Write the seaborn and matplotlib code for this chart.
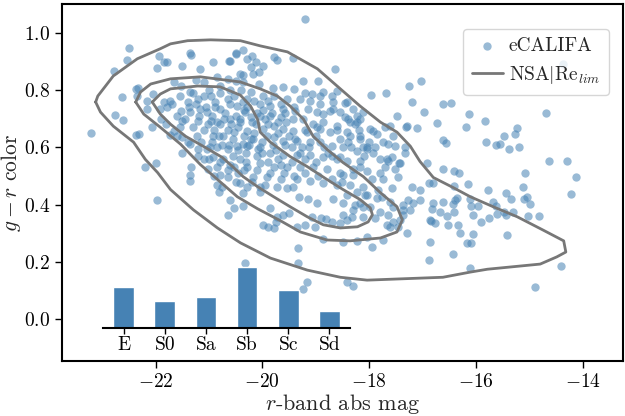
import numpy as np
import pandas as pd
import matplotlib
matplotlib.use("Agg")
import matplotlib.pyplot as plt
import seaborn as sns

# ---------------- data ----------------
# eCALIFA galaxies: r-band absolute magnitude, g-r colour
pts_left = [
    (-22.50, 0.947), (-22.54, 0.905), (-22.77, 0.867), (-21.94, 0.919), (-21.79, 0.898),
    (-21.36, 0.930), (-21.33, 0.923), (-21.50, 0.884), (-21.98, 0.877), (-21.16, 0.874),
    (-20.92, 0.898), (-20.60, 0.902), (-20.49, 0.926), (-20.37, 0.940), (-20.19, 0.919),
    (-20.21, 0.881), (-20.37, 0.853), (-21.25, 0.835), (-22.32, 0.807), (-22.62, 0.775),
    (-22.15, 0.733), (-22.75, 0.712), (-22.60, 0.695), (-22.06, 0.670), (-22.37, 0.642),
    (-22.30, 0.648), (-23.21, 0.649), (-21.72, 0.642), (-21.50, 0.635), (-21.50, 0.582),
    (-22.19, 0.533), (-22.00, 0.544), (-21.33, 0.533), (-21.35, 0.505), (-21.98, 0.418),
    (-21.35, 0.484), (-20.64, 0.365), (-20.54, 0.389), (-20.37, 0.442), (-20.32, 0.196),
    (-20.82, 0.446), (-20.75, 0.463), (-20.60, 0.418), (-20.36, 0.396), (-20.04, 0.446),
    (-19.85, 0.389), (-19.53, 0.460), (-19.61, 0.365), (-19.79, 0.319), (-19.33, 0.196),
]
pts_top = [
    (-19.20, 1.046), (-20.50, 0.930), (-20.62, 0.902), (-20.11, 0.898), (-19.98, 0.884),
    (-20.07, 0.863), (-19.79, 0.916), (-19.72, 0.905), (-19.42, 0.912), (-18.64, 0.874),
    (-19.23, 0.832), (-18.95, 0.832), (-19.81, 0.807), (-19.61, 0.811), (-19.40, 0.804),
    (-19.21, 0.789), (-18.92, 0.779), (-18.69, 0.779), (-18.45, 0.754), (-17.96, 0.782),
    (-17.68, 0.789), (-19.14, 0.733), (-18.67, 0.733), (-18.86, 0.716), (-18.22, 0.709),
    (-18.11, 0.723), (-18.45, 0.705), (-18.26, 0.681), (-18.60, 0.674), (-18.97, 0.670),
    (-17.93, 0.656), (-17.70, 0.670), (-17.55, 0.639), (-17.64, 0.611), (-17.51, 0.604),
    (-18.39, 0.618), (-18.11, 0.600), (-17.93, 0.582), (-17.57, 0.568), (-17.79, 0.558),
    (-18.54, 0.565), (-18.77, 0.582),
]
pts_right_top = [
    (-17.03, 0.832), (-17.25, 0.814), (-17.20, 0.758), (-16.62, 0.751), (-16.47, 0.754),
    (-16.97, 0.723), (-17.48, 0.709), (-16.13, 0.716), (-15.83, 0.691), (-14.69, 0.719),
    (-16.73, 0.684), (-16.19, 0.670), (-17.10, 0.667), (-17.31, 0.670), (-15.23, 0.667),
    (-15.27, 0.646), (-15.48, 0.639), (-16.62, 0.625), (-16.56, 0.614), (-15.81, 0.618),
    (-15.63, 0.607), (-15.55, 0.611), (-15.38, 0.596), (-15.20, 0.600), (-14.64, 0.551),
    (-14.30, 0.554), (-15.08, 0.512), (-14.13, 0.495), (-16.92, 0.547), (-16.62, 0.523),
    (-16.41, 0.516), (-16.32, 0.512), (-17.33, 0.600), (-17.33, 0.582), (-17.66, 0.561),
    (-17.44, 0.544), (-17.70, 0.533), (-17.51, 0.526), (-14.37, 0.891),
]
pts_right = [
    (-16.88, 0.477), (-16.80, 0.477), (-16.41, 0.467), (-16.15, 0.474), (-17.05, 0.453),
    (-15.78, 0.453), (-15.44, 0.442), (-15.12, 0.463), (-15.05, 0.428), (-14.22, 0.439),
    (-17.05, 0.418), (-16.80, 0.407), (-16.62, 0.411), (-16.43, 0.404), (-16.36, 0.425),
    (-16.11, 0.421), (-16.09, 0.396), (-15.96, 0.396), (-15.68, 0.411), (-15.63, 0.396),
    (-15.35, 0.421), (-15.10, 0.421), (-14.99, 0.404), (-16.82, 0.386), (-16.67, 0.375),
    (-16.41, 0.375), (-16.54, 0.361), (-16.06, 0.365), (-15.61, 0.368), (-15.48, 0.375),
    (-15.44, 0.365), (-15.31, 0.375), (-15.03, 0.361), (-14.82, 0.361), (-16.84, 0.344),
    (-16.77, 0.337), (-16.52, 0.330), (-15.91, 0.340), (-15.76, 0.354), (-16.30, 0.302),
    (-16.06, 0.298), (-15.42, 0.295), (-16.86, 0.270), (-16.17, 0.267), (-16.09, 0.267),
    (-16.43, 0.228), (-16.88, 0.207), (-16.11, 0.179), (-14.41, 0.186), (-14.90, 0.112),
    (-16.39, 0.418), (-16.86, 0.347), (-16.34, 0.330),
]
pts_low_mid = [
    (-19.33, 0.249), (-19.16, 0.130), (-19.23, 0.105), (-18.41, 0.130), (-18.30, 0.116),
    (-18.86, 0.281), (-17.94, 0.253), (-18.04, 0.288), (-18.22, 0.274), (-17.74, 0.277),
    (-17.66, 0.330), (-17.55, 0.340), (-17.46, 0.323), (-17.36, 0.365), (-17.23, 0.382),
    (-17.18, 0.407), (-17.36, 0.400), (-17.64, 0.365), (-17.55, 0.393), (-17.85, 0.425),
    (-17.98, 0.393), (-18.41, 0.347), (-18.54, 0.337), (-18.49, 0.365), (-18.69, 0.340),
    (-18.80, 0.351), (-19.01, 0.323), (-19.20, 0.330), (-19.35, 0.323), (-19.50, 0.372),
    (-19.72, 0.358), (-19.89, 0.323), (-19.98, 0.330), (-19.74, 0.340), (-19.07, 0.358),
    (-18.90, 0.354), (-18.97, 0.407), (-19.14, 0.421), (-19.31, 0.428), (-18.67, 0.421),
    (-18.49, 0.407), (-18.26, 0.400), (-18.30, 0.382), (-18.11, 0.393), (-18.04, 0.435),
    (-18.22, 0.688), (-17.98, 0.663), (-17.85, 0.646), (-18.41, 0.653), (-18.17, 0.639),
    (-17.61, 0.674), (-17.29, 0.674), (-18.04, 0.600), (-17.64, 0.551), (-17.42, 0.547),
    (-18.41, 0.551), (-18.17, 0.551), (-18.30, 0.523), (-18.49, 0.505), (-18.04, 0.516),
    (-17.94, 0.488), (-17.79, 0.512), (-17.74, 0.488), (-17.46, 0.495), (-17.20, 0.463),
    (-17.57, 0.460), (-17.76, 0.428), (-17.83, 0.453), (-18.07, 0.435), (-18.22, 0.446),
    (-18.41, 0.435), (-18.17, 0.407), (-17.61, 0.411), (-17.27, 0.418), (-17.36, 0.382),
    (-17.79, 0.375), (-18.11, 0.358), (-18.32, 0.358), (-17.89, 0.354), (-17.42, 0.347),
    (-17.61, 0.323), (-17.29, 0.302), (-18.49, 0.270),
]
pts_core = [
    (-21.85, 0.898), (-21.66, 0.828), (-21.53, 0.814), (-21.35, 0.793), (-21.10, 0.828),
    (-20.84, 0.846), (-20.79, 0.814), (-20.65, 0.839), (-20.50, 0.832), (-20.36, 0.828),
    (-22.37, 0.804), (-22.34, 0.779), (-22.15, 0.761), (-22.04, 0.786), (-21.85, 0.758),
    (-21.72, 0.761), (-21.91, 0.733), (-21.78, 0.740), (-21.53, 0.726), (-21.40, 0.758),
    (-21.35, 0.723), (-21.21, 0.768), (-21.10, 0.779), (-21.16, 0.733), (-20.97, 0.779),
    (-20.88, 0.758), (-21.03, 0.723), (-20.79, 0.733), (-20.65, 0.768), (-20.54, 0.779),
    (-20.47, 0.744), (-20.28, 0.768), (-20.32, 0.723), (-21.20, 0.691), (-20.97, 0.691),
    (-20.79, 0.681), (-20.60, 0.698), (-20.41, 0.688), (-20.28, 0.656), (-20.54, 0.653),
    (-20.73, 0.639), (-20.92, 0.639), (-21.50, 0.691), (-21.66, 0.656), (-21.35, 0.611),
    (-21.21, 0.593), (-21.03, 0.593), (-20.84, 0.600), (-20.65, 0.593), (-20.47, 0.604),
    (-20.28, 0.604), (-21.10, 0.558), (-20.92, 0.565), (-20.73, 0.558), (-20.54, 0.533),
    (-20.41, 0.558), (-20.28, 0.533), (-21.01, 0.523), (-20.84, 0.533), (-20.79, 0.505),
    (-20.65, 0.495), (-20.45, 0.512), (-20.41, 0.477), (-20.84, 0.470),
    (-20.28, 0.909), (-20.17, 0.856), (-20.41, 0.856), (-20.07, 0.821), (-19.07, 0.786),
    (-18.86, 0.793), (-18.60, 0.796), (-18.41, 0.758), (-18.67, 0.758), (-18.92, 0.751),
    (-19.10, 0.761), (-19.29, 0.768), (-19.53, 0.768), (-19.79, 0.779), (-19.98, 0.779),
    (-20.22, 0.793), (-20.36, 0.758), (-20.04, 0.751), (-19.85, 0.744), (-19.61, 0.733),
    (-19.38, 0.726), (-18.97, 0.723), (-18.73, 0.726), (-18.54, 0.723), (-18.30, 0.733),
    (-18.17, 0.698), (-18.36, 0.688), (-18.86, 0.688), (-19.05, 0.681), (-19.23, 0.698),
    (-19.42, 0.698), (-19.66, 0.705), (-19.85, 0.709), (-20.04, 0.709), (-20.22, 0.705),
    (-19.98, 0.663), (-19.79, 0.674), (-19.61, 0.663), (-19.42, 0.656), (-19.16, 0.653),
    (-18.92, 0.663), (-18.73, 0.653), (-18.54, 0.628), (-18.36, 0.639), (-18.17, 0.628),
    (-18.04, 0.593), (-18.22, 0.586), (-18.49, 0.600), (-18.69, 0.604), (-18.92, 0.618),
    (-19.10, 0.618), (-19.35, 0.621), (-19.61, 0.621), (-19.79, 0.635), (-20.17, 0.628),
    (-20.36, 0.611), (-20.09, 0.593), (-19.85, 0.582), (-19.61, 0.575), (-19.35, 0.575),
    (-19.10, 0.575), (-18.86, 0.568), (-18.60, 0.558), (-18.17, 0.533), (-18.30, 0.505),
    (-18.54, 0.512), (-18.79, 0.523), (-19.05, 0.533), (-19.29, 0.533), (-19.53, 0.533),
    (-19.79, 0.533), (-20.04, 0.547), (-20.17, 0.498), (-19.91, 0.495), (-19.66, 0.488),
    (-19.35, 0.488), (-19.10, 0.481), (-18.86, 0.477), (-18.60, 0.470), (-18.36, 0.470),
    (-18.11, 0.463), (-19.72, 0.463), (-19.42, 0.463), (-20.04, 0.463), (-20.28, 0.463),
]
pts_core_dense = [
    (-21.25, 0.75), (-21.05, 0.74), (-20.95, 0.71), (-20.85, 0.69), (-20.70, 0.72),
    (-20.60, 0.75), (-20.50, 0.71), (-20.35, 0.73), (-20.20, 0.69), (-20.10, 0.72),
    (-19.95, 0.70), (-19.90, 0.68), (-20.45, 0.67), (-20.65, 0.66), (-20.90, 0.66),
    (-21.10, 0.66), (-21.30, 0.67), (-21.45, 0.70), (-21.60, 0.71), (-21.15, 0.62),
    (-20.95, 0.62), (-20.75, 0.61), (-20.55, 0.63), (-20.35, 0.64), (-20.15, 0.65),
    (-20.00, 0.62), (-19.80, 0.61), (-19.70, 0.65), (-19.50, 0.64), (-19.55, 0.69),
    (-19.45, 0.60), (-19.25, 0.60), (-19.20, 0.66), (-19.00, 0.64), (-18.85, 0.60),
    (-18.70, 0.57), (-19.00, 0.55), (-19.20, 0.56), (-19.45, 0.55), (-19.70, 0.56),
    (-19.90, 0.55), (-20.10, 0.57), (-20.30, 0.58), (-20.55, 0.57), (-20.60, 0.54),
    (-20.35, 0.52), (-20.10, 0.52), (-19.85, 0.51), (-19.60, 0.51), (-19.40, 0.50),
    (-19.20, 0.51), (-18.95, 0.50), (-18.70, 0.49), (-18.50, 0.48), (-20.50, 0.48),
    (-20.20, 0.48), (-19.95, 0.47), (-21.40, 0.62), (-21.60, 0.64), (-21.80, 0.68),
    (-21.90, 0.70), (-21.70, 0.75), (-21.55, 0.78), (-21.30, 0.79), (-21.00, 0.80),
    (-20.80, 0.79), (-20.60, 0.80), (-20.40, 0.80), (-20.15, 0.76), (-19.90, 0.76),
    (-19.65, 0.75), (-19.40, 0.74), (-20.05, 0.60), (-20.25, 0.61), (-21.20, 0.57),
    (-21.00, 0.56), (-20.80, 0.55), (-20.65, 0.52), (-20.90, 0.50), (-18.60, 0.66),
    (-18.40, 0.70), (-18.20, 0.66), (-18.00, 0.62), (-18.35, 0.60), (-18.10, 0.57),
    (-17.90, 0.60), (-17.75, 0.62),
    (-21.18, 0.71), (-21.02, 0.68), (-20.88, 0.74), (-20.72, 0.70), (-20.58, 0.68),
    (-20.42, 0.70), (-20.28, 0.74), (-20.12, 0.68), (-19.98, 0.73), (-19.82, 0.72),
    (-19.70, 0.69), (-19.58, 0.72), (-20.98, 0.60), (-20.82, 0.64), (-20.62, 0.61),
    (-20.45, 0.59), (-20.22, 0.63), (-19.92, 0.64), (-19.75, 0.59), (-19.58, 0.61),
    (-19.38, 0.63), (-19.30, 0.58), (-19.12, 0.60), (-21.38, 0.74), (-21.55, 0.67),
    (-21.22, 0.64), (-20.30, 0.55), (-20.00, 0.58), (-19.65, 0.54),
]

# NSA|Re_lim density contours (outer, middle, inner)
nsa_outer_mag = [-23.12, -23.08, -22.79, -22.34, -21.91, -21.72, -21.40, -20.97, -20.41, -20.04,
                 -19.53, -18.97, -18.54, -18.17, -17.79, -17.48, -17.23, -17.05, -16.80, -16.43,
                 -16.11, -15.68, -15.23, -14.75, -14.36, -14.32, -14.49, -14.80, -15.79, -16.11,
                 -16.62, -17.05, -18.04, -18.54, -19.16, -19.85, -20.41, -20.84, -21.29, -21.72,
                 -21.96, -22.19, -22.41, -22.79, -23.03]
nsa_outer_gr = [0.758, 0.779, 0.849, 0.909, 0.944, 0.961, 0.972, 0.975, 0.972, 0.954,
                0.933, 0.874, 0.804, 0.744, 0.688, 0.653, 0.604, 0.551, 0.495, 0.460,
                0.428, 0.393, 0.358, 0.312, 0.274, 0.235, 0.218, 0.193, 0.175, 0.165,
                0.147, 0.144, 0.137, 0.147, 0.172, 0.214, 0.267, 0.319, 0.382, 0.453,
                0.512, 0.558, 0.618, 0.674, 0.723]
nsa_mid_mag = [-22.37, -22.28, -22.09, -21.72, -21.16, -20.41, -20.04, -19.72, -19.48, -19.23,
               -19.05, -18.79, -18.49, -18.11, -17.79, -17.48, -17.38, -17.48, -17.79, -18.36,
               -18.79, -19.29, -19.66, -20.09, -20.47, -20.84, -21.16, -21.53, -21.91, -22.22]
nsa_mid_gr = [0.758, 0.793, 0.821, 0.839, 0.846, 0.828, 0.804, 0.779, 0.744, 0.698,
              0.639, 0.593, 0.547, 0.498, 0.442, 0.393, 0.347, 0.305, 0.284, 0.274,
              0.277, 0.305, 0.344, 0.386, 0.428, 0.488, 0.540, 0.611, 0.670, 0.716]
nsa_in_mag = [-22.06, -21.91, -21.72, -21.21, -20.79, -20.41, -20.22, -20.09, -20.04, -19.85,
              -19.48, -19.16, -18.79, -18.49, -18.17, -17.98, -17.94, -18.02, -18.22, -18.54,
              -18.86, -19.16, -19.48, -19.79, -20.09, -20.36, -20.54, -20.75, -21.07, -21.44,
              -21.72, -21.91]
nsa_in_gr = [0.758, 0.786, 0.804, 0.814, 0.811, 0.782, 0.744, 0.698, 0.653, 0.618,
             0.568, 0.533, 0.488, 0.453, 0.418, 0.389, 0.365, 0.340, 0.323, 0.319,
             0.330, 0.358, 0.393, 0.428, 0.463, 0.498, 0.530, 0.565, 0.600, 0.639,
             0.681, 0.716]

# morphological type fractions (inset)
morph_types = ["E", "S0", "Sa", "Sb", "Sc", "Sd"]
morph_frac = [0.190, 0.126, 0.144, 0.284, 0.177, 0.079]

# ---------------- style ----------------
sns.set_style("ticks")
plt.rcParams.update({
    "font.family": ["cmr10", "DejaVu Serif"],
    "mathtext.fontset": "cm",
    "axes.formatter.use_mathtext": True,
    "axes.unicode_minus": True,
    "axes.linewidth": 1.5,
    "xtick.major.width": 1.0,
    "ytick.major.width": 1.0,
    "xtick.major.size": 5,
    "ytick.major.size": 5,
    "xtick.color": "black",
    "ytick.color": "black",
    "axes.edgecolor": "black",
})

pts = pts_left + pts_top + pts_right_top + pts_right + pts_low_mid + pts_core + pts_core_dense
df = pd.DataFrame(pts, columns=["mag", "gr"])

fig = plt.figure(figsize=(6.25, 4.16), dpi=100)
ax = fig.add_axes([62 / 625, 1 - 361 / 416, 561 / 625, 357 / 416])

sns.scatterplot(data=df, x="mag", y="gr", ax=ax, color="steelblue", alpha=0.55,
                s=36, linewidth=0, label="eCALIFA", zorder=2)

line_color = "#777777"
first = True
for cx, cy in [(nsa_outer_mag, nsa_outer_gr), (nsa_mid_mag, nsa_mid_gr), (nsa_in_mag, nsa_in_gr)]:
    ax.plot(list(cx) + [cx[0]], list(cy) + [cy[0]], color=line_color, lw=2.0,
            label=r"NSA$|$Re$_{lim}$" if first else None, zorder=3)
    first = False

ax.set_xlim(-23.75, -13.25)
ax.set_ylim(-0.145, 1.10)
ax.set_xticks([-22, -20, -18, -16, -14])
ax.set_yticks([0.0, 0.2, 0.4, 0.6, 0.8, 1.0])
ax.tick_params(labelsize=14)
ax.set_xlabel(r"$r$-band abs mag", fontsize=16, labelpad=1)
ax.set_ylabel(r"$g-r$ color", fontsize=15.5, labelpad=1)
for sp in ax.spines.values():
    sp.set_visible(True)
    sp.set_linewidth(1.5)

leg = ax.legend(loc="upper right", bbox_to_anchor=(0.975, 0.931), borderaxespad=0,
                fontsize=14, frameon=True, handlelength=1.6, handletextpad=0.3,
                borderpad=0.45, labelspacing=0.45)
leg.get_frame().set_edgecolor("#cccccc")

# inset bar chart of morphological types
axin = fig.add_axes([103 / 625, 1 - 328 / 416, 247 / 625, 64 / 416])
sns.barplot(x=morph_types, y=morph_frac, color="steelblue", saturation=1, width=0.5, ax=axin)
axin.set_facecolor("none")
for s in ["left", "top", "right"]:
    axin.spines[s].set_visible(False)
axin.spines["bottom"].set_linewidth(1.5)
axin.set_yticks([])
axin.set_xlabel("")
axin.set_ylabel("")
axin.tick_params(axis="x", labelsize=14, length=4, pad=2)

fig.savefig("out.png", dpi=100)
